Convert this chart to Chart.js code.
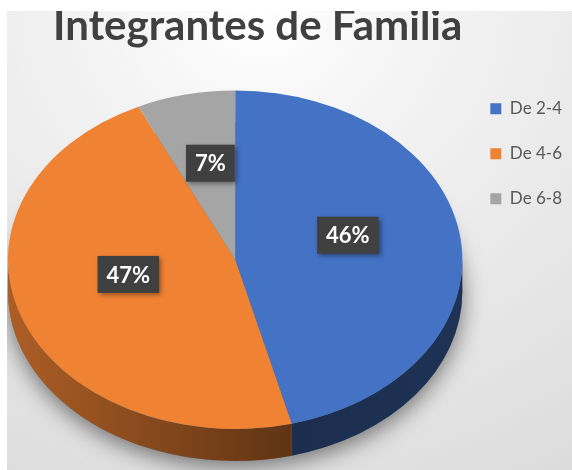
<!DOCTYPE html>
<html>
<head>
<meta charset="utf-8">
<script src="https://cdn.jsdelivr.net/npm/chart.js@4.4.1/dist/chart.umd.min.js"></script>
<style>
  html, body { margin: 0; padding: 0; background: #fff; }
  #frame {
    position: absolute; left: 7px; top: 11px; width: 565px; height: 459px;
    background: radial-gradient(ellipse 120% 130% at 45% 0%, #ffffff 0%, #f3f3f3 25%, #d8d8d8 100%);
  }
</style>
</head>
<body>
<div id="frame"><canvas id="pie3d"></canvas></div>
<script>
var labels = ["De 2-4", "De 4-6", "De 6-8"];
var values = [46, 47, 7];
var faceColors = ["#4472C4", "#F08233", "#A5A5A5"];

var tilt = 0.745;   // vertical squash of the pie top
var depth = 32;     // pie thickness in px

function shade(hex, f) {
    var n = parseInt(hex.slice(1), 16);
    var r = Math.round(((n >> 16) & 255) * f);
    var g = Math.round(((n >> 8) & 255) * f);
    var b = Math.round((n & 255) * f);
    return "rgb(" + r + "," + g + "," + b + ")";
}

function pieGeom(chart) {
    var a = chart.getDatasetMeta(0).data[0];
    var area = chart.chartArea;
    var rx = (area.right - area.left) / 2;
    var ry = rx * tilt;
    return { ax: a.x, ay: a.y, R: a.outerRadius, cx: a.x, cy: area.bottom - depth - ry, rx: rx, ry: ry };
}

// front part of each slice's rim, angles clipped to [0, PI]
function frontRange(s, e) {
    var out = [];
    [-2 * Math.PI, 0, 2 * Math.PI].forEach(function (k) {
        var a1 = Math.max(s + k, 0), a2 = Math.min(e + k, Math.PI);
        if (a2 > a1) out.push([a1, a2]);
    });
    return out;
}

var pie3d = {
    id: "pie3d",
    beforeDatasetsDraw: function (chart) {
        var ctx = chart.ctx;
        var g = pieGeom(chart);
        var meta = chart.getDatasetMeta(0);

        // soft shadow below the pie
        ctx.save();
        ctx.shadowColor = "rgba(0,0,0,0.5)";
        ctx.shadowBlur = 22;
        ctx.shadowOffsetY = 6;
        ctx.fillStyle = "#777";
        ctx.beginPath();
        ctx.ellipse(g.cx, g.cy + depth, g.rx, g.ry, 0, 0, 2 * Math.PI);
        ctx.fill();
        ctx.restore();

        // rim
        meta.data.forEach(function (arc, i) {
            var c = faceColors[i];
            var grad = ctx.createLinearGradient(g.cx - g.rx, 0, g.cx + g.rx, 0);
            grad.addColorStop(0, shade(c, 0.72));
            grad.addColorStop(0.62, shade(c, 0.4));
            grad.addColorStop(1, shade(c, 0.44));
            frontRange(arc.startAngle, arc.endAngle).forEach(function (r) {
                ctx.beginPath();
                ctx.ellipse(g.cx, g.cy, g.rx, g.ry, 0, r[0], r[1]);
                ctx.ellipse(g.cx, g.cy + depth, g.rx, g.ry, 0, r[1], r[0], true);
                ctx.closePath();
                ctx.fillStyle = grad;
                ctx.fill();
            });
        });

        // squash the flat pie into the tilted top
        ctx.save();
        ctx.translate(g.cx, g.cy);
        ctx.scale(g.rx / g.R, g.ry / g.R);
        ctx.translate(-g.ax, -g.ay);
    },
    afterDatasetsDraw: function (chart) {
        var ctx = chart.ctx;
        ctx.restore();
        var g = pieGeom(chart);
        var total = values.reduce(function (a, b) { return a + b; }, 0);
        chart.getDatasetMeta(0).data.forEach(function (arc, i) {
            var p = arc.tooltipPosition();
            var x = g.cx + (p.x - g.ax) * g.rx / g.R;
            var y = g.cy + (p.y - g.ay) * g.ry / g.R - 14;
            var text = Math.round(values[i] / total * 100) + "%";
            ctx.font = "bold 22px Lato";
            var w = ctx.measureText(text).width + 18, h = 37;
            ctx.save();
            ctx.shadowColor = "rgba(0,0,0,0.45)";
            ctx.shadowBlur = 5;
            ctx.shadowOffsetX = 2;
            ctx.shadowOffsetY = 2;
            ctx.fillStyle = "#404040";
            ctx.fillRect(x - w / 2, y - h / 2, w, h);
            ctx.restore();
            ctx.fillStyle = "#ffffff";
            ctx.textAlign = "center";
            ctx.textBaseline = "middle";
            ctx.fillText(text, x, y + 1);
        });
    }
};

new Chart("pie3d", {
    type: "pie",
    data: {
        labels: labels,
        datasets: [{
            data: values,
            backgroundColor: faceColors,
            borderWidth: 0,
            hoverOffset: 0
        }]
    },
    options: {
        responsive: true,
        maintainAspectRatio: false,
        animation: false,
        layout: { padding: { left: 1, right: 0, top: 0, bottom: 9 } },
        plugins: {
            tooltip: { enabled: false },
            title: {
                display: true,
                text: "Integrantes de Familia",
                align: "end",
                fullSize: false,
                color: "#404040",
                font: { family: "Lato", size: 42, weight: "bold", lineHeight: 0.72 },
                padding: { top: 0, bottom: 31 }
            },
            legend: {
                position: "right",
                align: "start",
                fullSize: false,
                labels: {
                    boxWidth: 11,
                    boxHeight: 11,
                    padding: 28,
                    color: "#595959",
                    font: { family: "Lato", size: 17 }
                }
            }
        }
    },
    plugins: [pie3d]
});
</script>
</body>
</html>
